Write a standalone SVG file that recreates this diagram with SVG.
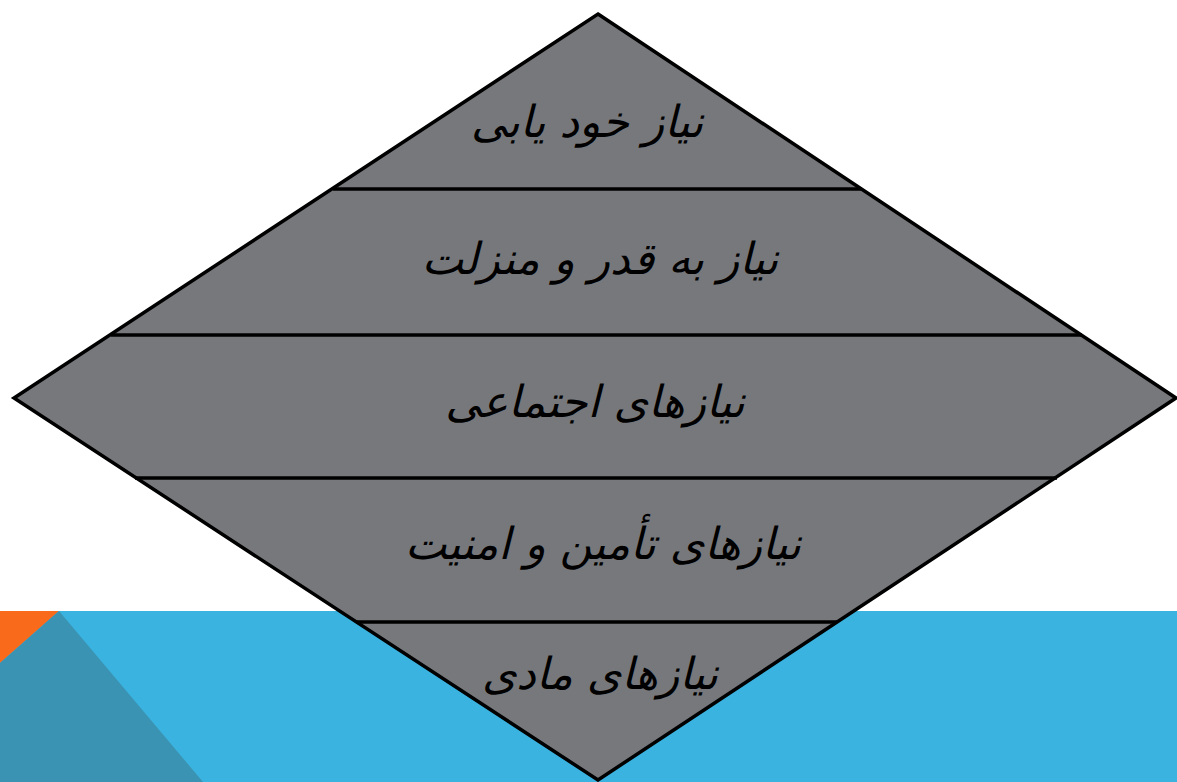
<svg xmlns="http://www.w3.org/2000/svg" width="1177" height="782" viewBox="0 0 1177 782">
<style>
.lbl{font-family:"DejaVu Sans","Noto Sans",sans-serif;font-size:44px;font-style:italic;fill:#000;text-anchor:middle;direction:rtl}
.sep{stroke:#000;stroke-width:3.5;fill:none}
</style>
<rect width="1177" height="782" fill="#fff"/>
<g id="background">
<rect x="0" y="611" width="1177" height="171" fill="#3bb3e0"/>
<polygon points="0,611 59,611 0,663" fill="#f96a1b"/>
<polygon points="0,663 59,611 203,782 0,782" fill="#3a93b2"/>
</g>
<g id="diamond">
<polygon points="598,14 1176,398 598,780 14,398" fill="#77787c" stroke="#000" stroke-width="3.5"/>
</g>
<g id="connectors">
<line class="sep" x1="333" y1="189" x2="862" y2="189"/>
<line class="sep" x1="111" y1="335" x2="1082" y2="335"/>
<line class="sep" x1="135" y1="478" x2="1057" y2="478"/>
<line class="sep" x1="356" y1="622" x2="837" y2="622"/>
</g>
<g id="level1"><text class="lbl" x="587" y="137">نیاز خود یابی</text></g>
<g id="level2"><text class="lbl" x="600" y="274">نیاز به قدر و منزلت</text></g>
<g id="level3"><text class="lbl" x="595" y="417">نیازهای اجتماعی</text></g>
<g id="level4"><text class="lbl" x="603" y="559">نیازهای تأمین و امنیت</text></g>
<g id="level5"><text class="lbl" x="600" y="689">نیازهای مادی</text></g>
</svg>
